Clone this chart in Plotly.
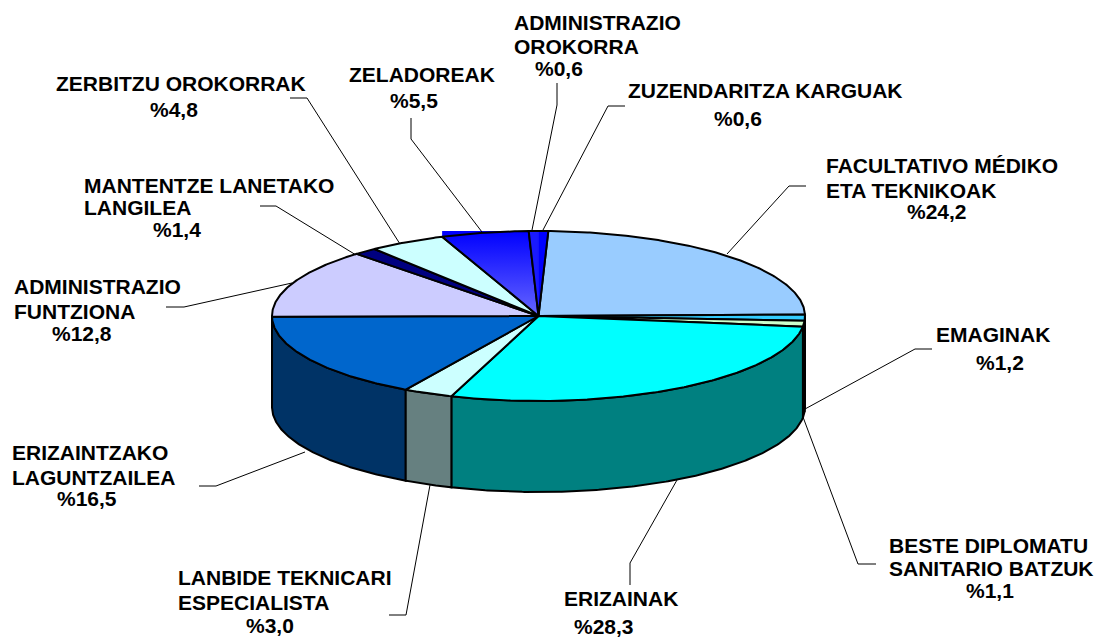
import numpy as np
import plotly.graph_objects as go

# ---- data ---------------------------------------------------------------
names = ["FACULTATIVO MÉDIKO ETA TEKNIKOAK", "EMAGINAK", "BESTE DIPLOMATU SANITARIO BATZUK",
         "ERIZAINAK", "LANBIDE TEKNICARI ESPECIALISTA", "ERIZAINTZAKO LAGUNTZAILEA",
         "ADMINISTRAZIO FUNTZIONA", "MANTENTZE LANETAKO LANGILEA", "ZERBITZU OROKORRAK",
         "ZELADOREAK", "ADMINISTRAZIO OROKORRA", "ZUZENDARITZA KARGUAK"]
values = [24.2, 1.2, 1.1, 28.3, 3.0, 16.5, 12.8, 1.4, 4.8, 5.5, 0.6, 0.6]

# ---- styles --------------------------------------------------------------
top_colors = ["#99CCFF", "#33CCFF", "#CCFFCC", "#00FFFF", "#CCFFFF", "#0066CC",
              "#CCCCFF", "#000080", "#CCFFFF", "#0000FF", "#1A1AFF", "#0000FF"]
side_colors = ["#4D6680", "#1A6680", "#668066", "#008080", "#668080", "#003366",
               "#666680", "#000040", "#668080", "#000080", "#000080", "#000080"]

# label layout: (text, x, y) for each slice, text lines then value
label_lines = [
    [("FACULTATIVO MÉDIKO", 825, 165), ("ETA TEKNIKOAK", 825, 190)],
    [("EMAGINAK", 935, 334)],
    [("BESTE DIPLOMATU", 888, 545), ("SANITARIO BATZUK", 888, 568)],
    [("ERIZAINAK", 563, 598)],
    [("LANBIDE TEKNICARI", 177, 577), ("ESPECIALISTA", 177, 602)],
    [("ERIZAINTZAKO", 11, 452), ("LAGUNTZAILEA", 11, 477)],
    [("ADMINISTRAZIO", 13, 286), ("FUNTZIONA", 13, 311)],
    [("MANTENTZE LANETAKO", 83, 185), ("LANGILEA", 83, 207)],
    [("ZERBITZU OROKORRAK", 55, 83)],
    [("ZELADOREAK", 348, 74)],
    [("ADMINISTRAZIO", 513, 22), ("OROKORRA", 513, 46)],
    [("ZUZENDARITZA KARGUAK", 627, 90)],
]
value_pos = [(937, 211), (1000, 362), (990, 590), (604, 626), (270, 625), (87, 498),
             (82, 333), (177, 229), (174, 109), (414, 100), (559, 68), (738, 118)]
leaders = [
    [(806, 186), (789, 186), (727, 254)],
    [(932, 349), (915, 349), (805, 409)],
    [(876, 564), (858, 564), (803, 417)],
    [(630, 585), (630, 563), (677, 480)],
    [(389, 615), (406, 615), (430, 485)],
    [(199, 486), (216, 486), (305, 452)],
    [(166, 307), (184, 307), (292, 283)],
    [(260, 206), (276, 206), (356, 255)],
    [(290, 98), (307, 98), (400, 244)],
    [(411, 118), (411, 139), (482, 232)],
    [(557, 83), (557, 105), (532, 230)],
    [(625, 106), (608, 106), (543, 230)],
]

# ---- pie geometry --------------------------------------------------------
CX, CY, RX, RY, DEPTH = 538.5, 316, 266.5, 85, 91
FONT = dict(family="Liberation Sans, Arial, sans-serif", size=21, color="black")
LW = 2


def view_angle(a):
    """share-derived angle -> drawn angle (slight foreshortening of the 3-D view)."""
    d = (a - 315 + 180) % 360 - 180
    return a + 1.8 + 1.6 * np.exp(-(d / 35.0) ** 2)


cum = np.concatenate([[0], np.cumsum(values)]) / sum(values) * 360
edges = [view_angle(a) for a in cum]


def arc(a0, a1, dy=0.0):
    t = np.radians(np.linspace(a0, a1, max(int(abs(a1 - a0) * 2), 2) + 1))
    return CX + RX * np.sin(t), CY - RY * np.cos(t) + dy


fig = go.Figure()


def poly(xs, ys, fill, line="black", width=LW, name=None, **kw):
    fig.add_trace(go.Scatter(x=list(xs), y=list(ys), mode="lines", fill="toself", fillcolor=fill,
                             line=dict(color=line, width=width), name=name, showlegend=False,
                             hoverinfo="skip", **kw))


# sides: only the part of the rim facing the viewer (90..270 degrees)
order = sorted(range(len(values)), key=lambda i: -abs((edges[i] + edges[i + 1]) / 2 - 180))
for i in order:
    a0, a1 = max(edges[i], 90), min(edges[i + 1], 270)
    if a1 <= a0:
        continue
    xt, yt = arc(a0, a1)
    xb, yb = arc(a1, a0, DEPTH)
    poly(np.r_[xt, xb, xt[0]], np.r_[yt, yb, yt[0]], side_colors[i], name=names[i])

# top faces
for i in range(len(values)):
    xa, ya = arc(edges[i], edges[i + 1])
    xs, ys = np.r_[CX, xa, CX], np.r_[CY, ya, CY]
    if names[i] == "ZELADOREAK":
        # blue fill spills over the rim up to the top of the ellipse in the source
        poly(np.r_[xa[0], xa[-1], xa[::-1]], np.r_[CY - RY, CY - RY, ya[::-1]], "#0000FF",
             line="rgba(0,0,0,0)", width=0)
        poly(xs, ys, "#0000FF", name=names[i],
             fillgradient=dict(type="vertical", colorscale=[[0, "#6666FF"], [1, "#0000FF"]]))
    elif names[i] in ("ADMINISTRAZIO OROKORRA", "ZUZENDARITZA KARGUAK"):
        poly(xs, ys, top_colors[i], line=top_colors[i], width=0.5, name=names[i])
    else:
        poly(xs, ys, top_colors[i], name=names[i])

# shared outline of the two smallest slices (no visible line between them)
xa, ya = arc(edges[10], edges[12])
fig.add_trace(go.Scatter(x=np.r_[CX, xa, CX], y=np.r_[CY, ya, CY], mode="lines",
                         line=dict(color="black", width=LW), showlegend=False, hoverinfo="skip"))

# leader lines
for pts in leaders:
    fig.add_trace(go.Scatter(x=[p[0] for p in pts], y=[p[1] for p in pts], mode="lines",
                             line=dict(color="black", width=1), showlegend=False, hoverinfo="skip"))

# labels
annotations = []
for lines, v, (vx, vy) in zip(label_lines, values, value_pos):
    for text, x, y in lines:
        annotations.append(dict(x=x, y=y, text=f"<b>{text}</b>", xref="x", yref="y", showarrow=False,
                                xanchor="left", yanchor="middle", font=FONT, borderpad=0))
    annotations.append(dict(x=vx, y=vy, text="<b>%" + f"{v:.1f}".replace(".", ",") + "</b>",
                            xref="x", yref="y", showarrow=False, xanchor="center", yanchor="middle",
                            font=FONT, borderpad=0))

fig.update_layout(width=1103, height=638, autosize=False, margin=dict(l=0, r=0, t=0, b=0, pad=0),
                  paper_bgcolor="white", plot_bgcolor="white", showlegend=False,
                  xaxis=dict(range=[0, 1103], visible=False, fixedrange=True),
                  yaxis=dict(range=[638, 0], visible=False, fixedrange=True),
                  annotations=annotations)
fig.write_html("out.html", config=dict(displayModeBar=False),
               post_script="document.body.style.margin='0';")
